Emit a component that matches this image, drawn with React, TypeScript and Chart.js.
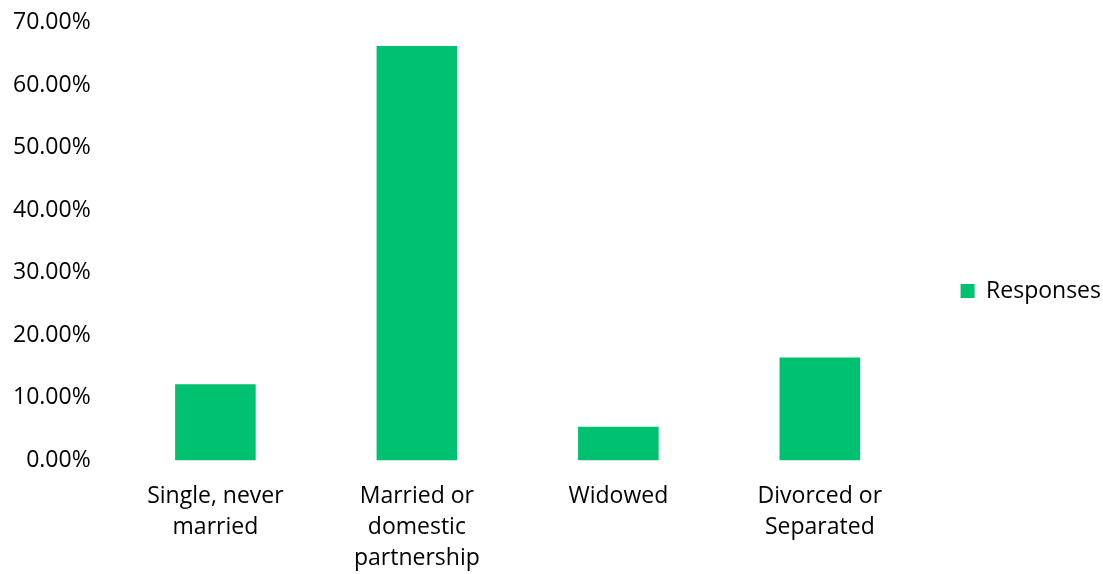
import React, { useEffect, useRef } from "react";
import { Chart, registerables } from "chart.js";

Chart.register(...registerables);

const categories: string[][] = [
  ["Single, never", "married"],
  ["Married or", "domestic", "partnership"],
  ["Widowed"],
  ["Divorced or", "Separated"],
];
const responses: number[] = [12.2, 66.25, 5.38, 16.45];
const seriesName = "Responses";
const yTicksMax = 70;
const yStep = 10;

const FONT = "'Open Sans', 'Liberation Sans', sans-serif";

export default function App() {
  const ref = useRef<HTMLCanvasElement | null>(null);
  useEffect(() => {
    if (!ref.current) return;
    const chart = new Chart(ref.current, {
      type: "bar",
      data: {
        labels: categories,
        datasets: [
          {
            label: seriesName,
            data: responses,
            backgroundColor: "#00C16F",
            borderWidth: 0,
            categoryPercentage: 1,
            barPercentage: 0.4,
          },
        ],
      },
      options: {
        animation: false,
        responsive: false,
        maintainAspectRatio: false,
        layout: { padding: { left: -11, top: 8, bottom: 0, right: -8 } },
        plugins: {
          tooltip: { enabled: false },
          legend: {
            position: "right",
            labels: {
              boxWidth: 14,
              boxHeight: 14,
              padding: 40,
              color: "#000",
              font: { family: FONT, size: 23 },
            },
          },
        },
        scales: {
          x: {
            grid: { display: false, drawTicks: false },
            border: { display: false },
            afterFit: (s: any) => {
              s.paddingLeft = 0;
              s.paddingRight = 0;
              s.height = 113.5;
            },
            ticks: {
              color: "#000",
              padding: 21,
              maxRotation: 0,
              autoSkip: false,
              font: { family: FONT, size: 23, lineHeight: 1.34 },
            },
          },
          y: {
            min: 0,
            max: yTicksMax,
            grid: { display: false, drawTicks: false },
            border: { display: false },
            afterFit: (s: any) => {
              s.paddingTop = 22.5;
              s.paddingBottom = 14;
            },
            ticks: {
              stepSize: yStep,
              color: "#000",
              padding: 24,
              font: { family: FONT, size: 23 },
              callback: (v: any) => Number(v).toFixed(2) + "%",
            },
          },
        },
      },
    });
    return () => chart.destroy();
  }, []);
  return (
    <div style={{ position: "fixed", left: 0, top: 0, width: 1103, height: 574, background: "#fff" }}>
      <canvas ref={ref} width={1103} height={574} style={{ width: 1103, height: 574 }} />
    </div>
  );
}
